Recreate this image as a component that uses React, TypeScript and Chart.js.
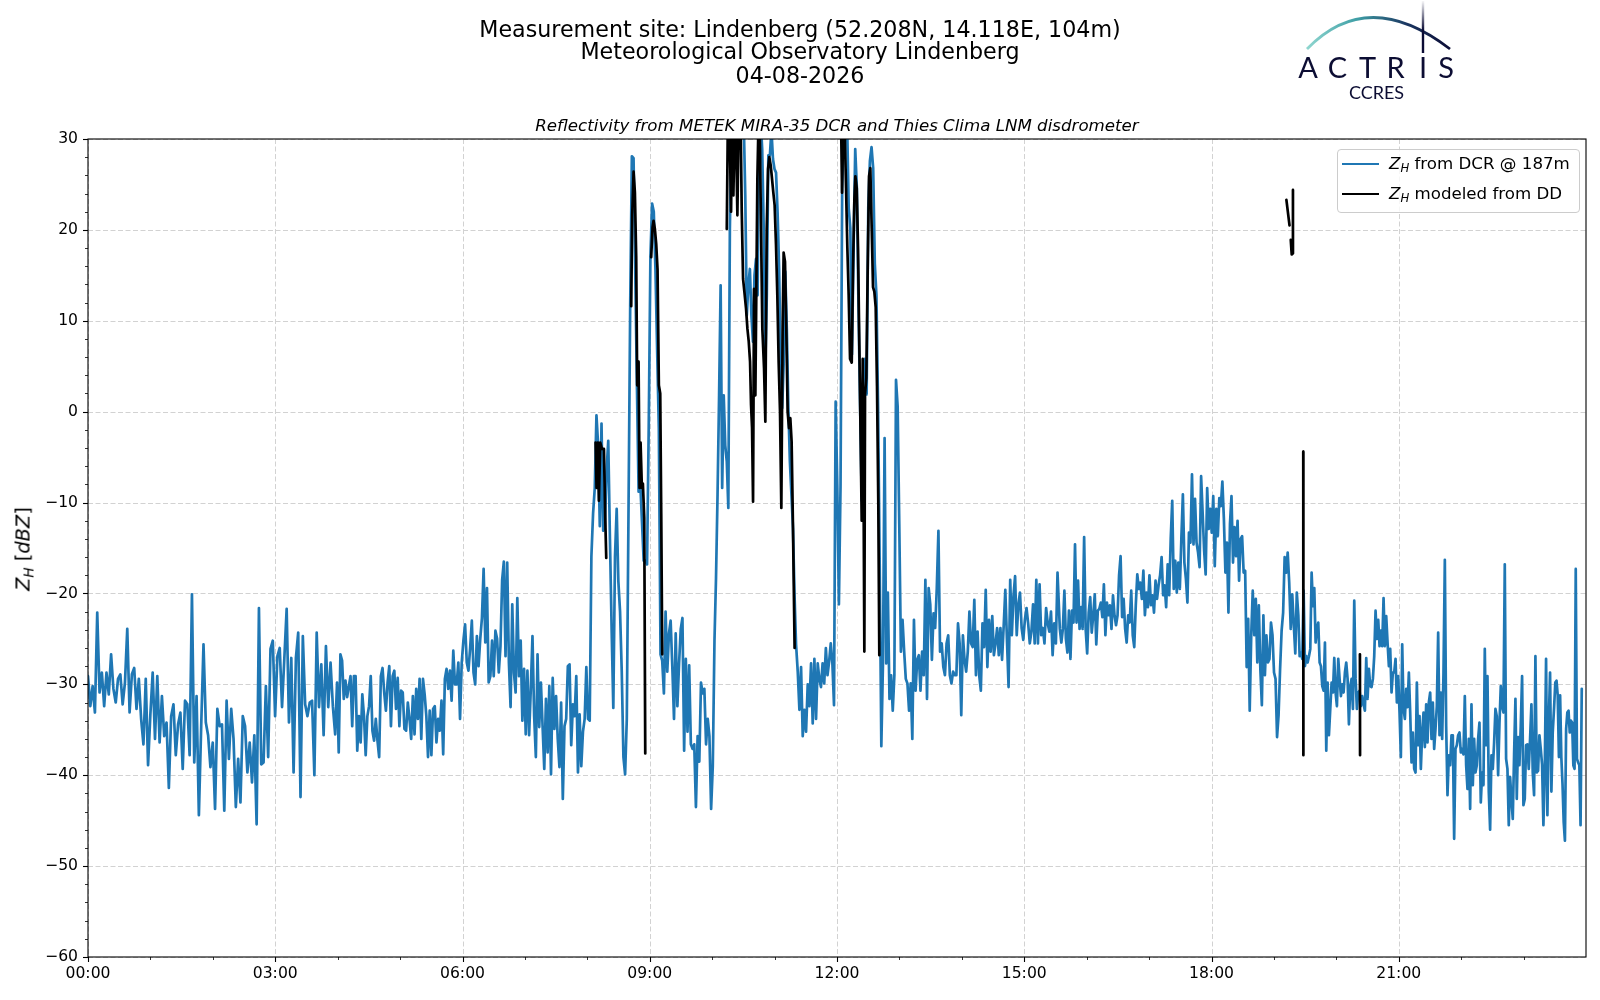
import React, { useEffect, useRef } from 'react';
import { Chart, registerables } from 'chart.js';

Chart.register(...registerables);

// ---------------- DATA ----------------
// DCR reflectivity (dBZ) at 187 m in time blocks.
// Each block is sampled evenly between the start/end hours given in dcrSpans.
const dcrA = [-29.1, -32.4, -30.2, -33.1, -22.1, -30.9, -28.7, -32.4, -28.7, -31.1,
  -26.7, -30.5, -32.0, -29.4, -28.9, -32.2, -29.8, -23.9, -33.1, -28.9,
  -28.2, -32.7, -29.4, -33.8, -36.6, -29.4, -38.9, -33.3, -28.7, -36.0,
  -29.1, -36.4, -31.3, -35.7, -34.2, -41.4, -33.5, -32.2, -37.8, -34.4,
  -33.1, -39.3, -31.8, -32.2, -37.8, -20.1, -38.6, -31.3, -44.4, -34.6,
  -25.6, -34.2, -35.6, -39.1, -36.4, -43.7, -32.7, -34.6, -34.4, -43.9,
  -31.8, -38.2, -32.7, -36.0, -43.5, -38.2, -43.0, -33.5, -34.6, -39.7,
  -36.4, -40.8, -35.6, -45.4, -21.6, -38.8, -38.6, -30.2, -38.0, -26.1,
  -25.2, -33.5, -26.9, -26.0, -32.5, -27.1, -21.7, -34.2, -27.1, -39.7,
  -27.1, -24.3, -42.4, -24.7, -32.2, -33.5, -32.0, -31.8, -40.0, -24.3,
  -32.5, -27.8, -35.6, -25.8, -32.5, -27.6, -32.4, -35.5];

const dcrB = [-29.8, -37.5, -26.7, -27.4, -31.6, -29.6, -31.4, -30.2, -29.1, -34.6,
  -29.1, -29.1, -37.3, -33.5, -36.4, -31.1, -33.5, -37.8, -33.5, -32.4,
  -29.1, -35.1, -36.2, -33.8, -36.2, -38.0, -29.1, -28.2, -30.9, -32.9,
  -29.8, -28.0, -34.6, -29.1, -28.5, -32.7, -29.3, -34.6, -30.7, -30.9,
  -34.9, -35.1, -32.0, -33.8, -36.0, -31.3, -35.5, -30.5, -33.8, -29.4,
  -36.0, -29.4, -31.1, -33.5, -38.0, -32.9, -37.8, -32.7, -32.4, -36.4,
  -33.8, -35.1, -31.8, -37.7, -29.4, -28.3, -30.5, -28.5, -31.8, -26.3,
  -30.0, -30.0, -27.6, -33.8, -27.6, -25.2, -23.4, -27.6, -28.5, -26.0,
  -23.0, -28.7, -30.0, -24.7, -28.0, -25.0, -22.7, -17.3, -25.4, -19.4,
  -29.8, -29.1, -25.2, -29.1, -24.1, -25.0, -28.7, -25.8, -18.5, -16.5,
  -26.9, -16.6, -27.6, -32.5, -21.2, -28.7, -30.9, -20.5, -29.1, -25.2,
  -34.0, -28.3, -35.5, -28.5, -35.6, -30.5, -24.7, -33.5, -38.0, -26.7,
  -34.7, -29.8, -34.6, -39.3, -31.6, -37.5, -30.2, -39.9, -29.3, -34.9,
  -31.3, -36.0, -39.1, -32.0, -42.6, -34.6, -33.8, -28.0, -27.8, -36.7,
  -32.2, -33.5, -29.1, -39.7];

const dcrC1 = [-33.3, -39.0, -35.2, -33.8, -28.1, -33.8, -34.0, -15.9, -11.2, -8.4,
  -0.4, -3.7, -12.6, -1.3, -13.1, -12.6, -6.5, -3.2, -14.0, -23.9,
  -32.6, -15.9, -10.7, -18.7, -22.0, -28.6, -38.0, -39.9, -33.8, -11.2,
  11.4, 28.1, 27.9, 15.6, 2.9, -8.8, -7.9, -12.1, -16.4, -16.4,
  -16.8, -1.8, 17.0, 22.9, 22.0, 15.6, 6.7, -1.8, -26.7, -27.4,
  -31.0, -22.0, -28.6, -24.4, -23.0, -28.1, -33.8, -24.4, -32.4, -27.7,
  -23.9, -22.7, -37.3, -27.2, -35.2, -27.9, -36.6, -37.1, -36.6, -43.5,
  -35.7, -38.5, -29.8, -31.0, -30.5, -36.6, -33.8, -35.7, -43.7, -39.0];

const dcrC2 = [-25.2, -18.3, -9.1, 1.8, 13.9, -8.4, 1.8, -3.7, -5.5, -10.6,
  20.1, 31, 32, 33, 32, 33, 31, 32, 33, 32,
  23.8, 10.6, 13.9, 15.7, 10.6, 7.7, 15.0, 16.8, 12.8, 31,
  32, 28.9, 20.1, 4.8, 12.8, 28.2, 28.2, 31, 27.8, 26.7,
  26.3, 21.9, 15.7, 5.5, 0.4, 5.5, 15.4, 9.1, 0.4, -5.5,
  -9.1, -12.8, -20.1, -25.6];

const dcrC3 = [-28.6, -32.8, -28.1, -35.7, -32.8, -35.2, -30.0, -32.4, -27.7, -34.3,
  -27.2, -33.8, -27.7];

const dcrD = [-29.4, -30.3, -27.7, -29.9, -26.0, -29.0, -27.5, -25.5, -27.7, -32.3,
  1.1, -8.1, -21.2, -8.1, 24.6, 31, 32, 32, 22.4,
  20.2, 6.3, 18.0, 28.9, 24.6, 11.5, 0.6, -9.8, 5.0, 5.8, 1.9, 22.4, 27.6, 29.1, 26.8,
  16.3, 12.8, 0.6, -16.8, -36.8, -27.7, -2.9, -27.7, -19.9, -31.6,
  -29.0, -32.9, -29.0, 3.5, 0.6, -12.4, -26.4, -22.9, -26.4, -29.4,
  -29.9, -32.9, -29.9, -36.0, -22.9, -30.7, -27.3, -26.8, -30.7, -26.4,
  -29.0, -18.5, -31.6, -19.4, -21.2, -27.3, -22.2, -23.8, -19.4, -13.1,
  -26.4, -25.5, -28.1, -29.0, -25.5, -24.6, -29.0, -29.9, -28.6, -29.0,
  -29.0, -23.3, -25.5, -33.4, -24.6, -27.3, -28.6, -26.4, -22.0, -25.5,
  -25.9, -20.7, -29.0, -24.2, -29.0, -30.7, -23.3, -25.9, -19.6, -28.1,
  -22.9, -26.4, -22.5, -26.8, -25.5, -23.8, -26.8, -23.8, -27.3, -23.6,
  -19.6, -25.1, -30.3, -18.5, -24.6, -20.3, -18.1, -24.6, -21.2, -19.9,
  -23.8, -25.1, -22.9, -21.6, -23.3, -25.5, -24.2, -21.2, -25.5, -18.5,
  -25.5, -19.0, -24.6, -23.8, -25.5, -21.6, -23.3, -24.2, -22.0, -26.8,
  -23.3, -25.5, -17.7];

const dcrE = [-23.9, -25.4, -23.9, -19.7, -25.0, -26.5, -21.9, -27.2, -21.9, -23.2,
  -14.6, -23.2, -18.6, -23.9, -21.5, -23.9, -13.8, -23.9, -26.6, -22.1,
  -20.4, -24.3, -22.4, -20.1, -25.6, -21.9, -21.7, -21.0, -22.6, -19.0,
  -24.6, -21.0, -22.4, -21.3, -23.9, -20.2, -22.4, -23.5, -22.4, -18.0,
  -15.9, -22.6, -20.6, -23.9, -25.4, -22.4, -23.2, -19.7, -24.6, -25.9,
  -21.3, -17.9, -19.5, -18.8, -20.6, -17.5, -22.4, -19.9, -21.5, -18.0,
  -21.3, -20.2, -22.1, -18.6, -20.6, -19.1, -18.0, -16.0, -20.2, -19.1,
  -21.5, -16.8, -20.2, -14.0, -9.8, -19.5, -16.4, -19.9, -16.6, -19.5,
  -14.0, -9.1, -16.6, -18.4, -21.0, -13.3, -14.4, -6.9, -14.6, -9.6,
  -14.4, -15.5, -17.1, -7.1, -11.1, -15.3, -17.9, -8.4, -12.9, -10.7,
  -13.3, -9.3, -17.0, -10.7, -13.7, -9.5, -10.4, -7.7, -11.8, -17.7,
  -14.4, -22.1, -12.4, -9.3, -16.6, -12.7, -15.9, -12.0, -18.6, -14.0,
  -13.7, -17.7, -17.5, -28.1, -22.8, -32.9, -24.6, -19.7, -24.6, -20.6,
  -27.6, -21.3, -28.3, -32.3, -22.4, -29.0, -24.6, -27.6, -27.2, -23.2,
  -24.6, -28.7, -29.4, -35.8, -33.4, -28.3, -24.1, -22.1, -16.0, -17.7,
  -15.5, -18.8, -23.9, -20.1, -23.4, -26.6, -19.9, -22.4];

const dcrF = [-26.9, -26.5, -27.2, -19.7, -28.0, -26.9, -27.6, -26.9, -26.1,
  -17.7, -21.4, -19.4, -25.4, -23.9, -23.2, -27.6, -28.0, -30.2, -30.7,
  -25.4, -37.3, -29.8, -35.6, -32.7, -29.8, -30.9, -27.1, -30.9, -32.4,
  -27.2, -29.4, -31.3, -30.0, -30.9, -28.7, -27.6, -29.4, -34.4, -30.2,
  -29.4, -32.7, -20.8, -29.4, -32.7, -30.9, -30.7, -32.4, -31.3, -32.2,
  -32.9, -27.1, -31.6, -28.3, -30.2, -30.3, -29.4, -26.9, -21.9, -25.0,
  -22.9, -25.8, -24.1, -25.8, -20.5, -25.8, -22.5, -25.4, -28.0, -26.1,
  -30.9, -28.7, -28.7, -27.2, -32.0, -29.1, -33.1, -38.0, -25.6, -32.7,
  -33.8, -30.5, -32.5, -28.7, -33.1, -38.6, -35.3, -39.3, -39.7, -29.8,
  -36.7, -33.5, -39.3, -35.3, -33.1, -36.9, -32.2, -36.4, -32.0, -30.9,
  -36.0, -32.0, -37.1, -34.9, -32.4, -24.3, -35.6, -30.9, -36.0, -28.7,
  -16.3, -34.6, -42.2, -37.8, -38.9, -35.6, -35.6, -47.0, -37.1, -36.7,
  -35.6, -35.3, -37.5, -37.1, -37.7, -31.3, -38.9, -41.5, -36.0, -43.7,
  -32.2, -41.1, -36.0, -39.7, -38.9, -36.0, -34.2, -43.0, -39.7, -41.1,
  -26.1, -36.7, -29.1, -41.8, -46.0, -37.8, -39.3, -36.4, -32.7, -33.5,
  -40.0, -34.4, -30.2, -32.4, -33.1, -16.8, -38.2, -39.3, -45.5, -40.2,
  -42.6, -44.8, -37.7, -31.6, -42.6, -35.8, -38.9, -34.6, -29.1, -43.3,
  -42.6, -36.7, -36.6, -39.3, -36.0, -32.2, -39.7, -42.2, -26.9, -39.7,
  -39.5, -35.6, -37.1, -38.8, -45.5, -39.7, -27.2, -44.4, -34.4, -28.7,
  -41.8, -35.3];

const dcrG = [-32.5, -29.8, -29.6, -31.2, -38.0, -31.2, -38.0, -41.0, -45.2, -47.2,
  -34.9, -33.1, -32.9, -35.3, -34.0, -34.2, -38.9, -39.3, -17.3, -38.2,
  -38.6, -38.9, -45.5, -30.5];

// start / end hour of each DCR block
const dcrBlocks = [dcrA, dcrB, dcrC1, dcrC2, dcrC3, dcrD, dcrE, dcrF, dcrG];
const dcrSpans = [
  [0.0, 3.96], [3.99, 7.85], [7.876, 10.01], [10.037, 11.344], [11.371, 11.691],
  [11.717, 15.533], [15.57, 19.391], [19.412, 23.467], [23.489, 23.932],
];

// Reflectivity modeled from the disdrometer (hours, dBZ); null = gap
const ddTimes = [
  8.132, 8.148, 8.169, 8.185, 8.207, 8.234, 8.266, 8.287, 8.303, 8.32,
  8.703, 8.719, 8.741, 8.762, 8.783, 8.799, 8.821, 8.837, 8.853, 8.874, 8.890, 8.912, 8.928, 8.95,
  9.023, 9.045, 9.061, 9.082, 9.104, 9.125, 9.146, 9.168, 9.184, 9.200, 9.22,
  10.234, 10.25, 10.277, 10.303, 10.319, 10.340, 10.362, 10.383, 10.404, 10.426,
  10.452, 10.474, 10.495, 10.516, 10.543, 10.565, 10.586, 10.607, 10.623, 10.639,
  10.655, 10.671, 10.692, 10.708, 10.724, 10.740, 10.762, 10.783, 10.804, 10.831,
  10.852, 10.874, 10.895, 10.916, 10.938, 10.959, 10.980, 11.001, 11.023, 11.044,
  11.065, 11.087, 11.108, 11.129, 11.145, 11.167, 11.188, 11.209, 11.231, 11.252,
  11.273, 11.295, 11.321, 11.34,
  12.065, 12.081, 12.102, 12.124, 12.145, 12.166, 12.187, 12.209, 12.236, 12.257,
  12.278, 12.294, 12.316, 12.337, 12.358, 12.380, 12.396, 12.412, 12.428, 12.438,
  12.449, 12.470, 12.492, 12.513, 12.534, 12.556, 12.577, 12.598, 12.620, 12.641,
  12.662, 12.678, 12.7,
  19.20, 19.25, 19.26, 19.27, 19.285, 19.30, 19.305, 19.35,
  19.47, 19.472, 19.5,
  20.378, 20.38,
];
const ddValues = [
  -3.4, -8.4, -3.4, -9.8, -3.4, -4.1, -4.1, -11.7, -16.1, null,
  11.6, 21.7, 26.4, 24.1, 17.0, 2.9, 5.5, -8.4, -3.4, -8.4, -7.9, -11.7, -37.6, null,
  17.0, 20.3, 21.0, 20.1, 18.4, 15.6, 2.9, 2.0, -11.2, -26.7, null,
  20.1, 31, 32, 22, 33, 23.8, 32, 30, 21.6, 33,
  34, 22, 14.6, 13.2, 11.3, 9.1, 7.7, 5.5, 0.7, -1.8,
  -9.9, 13.5, 1.8, 13.5, 25.6, 31, 31, 20.1, 9.1, 4.8,
  -1.1, 20.1, 26.7, 28, 27.1, 25.6, 24.1, 22.7, 18.3, 12.8,
  5.5, 0, -10.6, 9.1, 17.5, 16.5, 9.1, 0, -1.8, -0.7,
  -3.3, -12.8, -26, null,
  32, 24.1, 32, 31, 24.6, 18, 12.8, 5.8, 5.4, 15.9,
  23.3, 25.9, 24.6, 18, 7.2, -3.7, -12, 5.8, -12, -26.4,
  1.9, 3.7, 15.9, 25.9, 26.8, 20.2, 13.7, 13.2, 11.5, 2.8,
  -10.3, -26.8, null,
  23.3, 20.5, null, 18.9, 17.3, 17.4, 24.4, null,
  -4.4, -37.8, null,
  -26.7, -37.8,
];

const xMajorTicks = [0, 3, 6, 9, 12, 15, 18, 21];
const xMinorTicks = [1, 2, 4, 5, 7, 8, 10, 11, 13, 14, 16, 17, 19, 20, 22, 23];
const yMajorTicks = [-60, -50, -40, -30, -20, -10, 0, 10, 20, 30];

const titleLines = [
  'Measurement site: Lindenberg (52.208N, 14.118E, 104m)',
  'Meteorological Observatory Lindenberg',
  '04-08-2026',
];
const subTitle = 'Reflectivity from METEK MIRA-35 DCR and Thies Clima LNM disdrometer';

const BLUE = '#1f77b4';
const FONT = "'DejaVu Sans', sans-serif";
const LINE_W = 2.7;
const TICK_FONT = 15.6;

// -------------- helpers --------------
function buildDcrPoints() {
  const pts: { x: number; y: number }[] = [];
  dcrBlocks.forEach((vals, b) => {
    const [s, e] = dcrSpans[b];
    const n = vals.length;
    vals.forEach((v, i) => {
      pts.push({ x: s + (n > 1 ? (i * (e - s)) / (n - 1) : 0), y: v });
    });
  });
  return pts;
}

function buildDdPoints() {
  return ddTimes.map((t, i) => ({ x: t, y: ddValues[i] as number | null }));
}

const axesPlugin = {
  id: 'mplAxes',
  beforeDatasetsDraw(chart: any) {
    const { ctx, chartArea: a, scales } = chart;
    const x = scales.x;
    const y = scales.y;
    ctx.save();
    ctx.strokeStyle = '#d2d2d2';
    ctx.lineWidth = 1;
    ctx.setLineDash([5, 2.5]);
    xMajorTicks.forEach((v) => {
      const px = Math.round(x.getPixelForValue(v)) + 0.5;
      ctx.beginPath();
      ctx.moveTo(px, a.top);
      ctx.lineTo(px, a.bottom);
      ctx.stroke();
    });
    yMajorTicks.forEach((v) => {
      const py = Math.round(y.getPixelForValue(v)) + 0.5;
      ctx.beginPath();
      ctx.moveTo(a.left, py);
      ctx.lineTo(a.right, py);
      ctx.stroke();
    });
    ctx.restore();
  },
  afterDatasetsDraw(chart: any) {
    const { ctx, chartArea: a, scales } = chart;
    const x = scales.x;
    const y = scales.y;
    ctx.save();
    ctx.setLineDash([]);
    ctx.strokeStyle = '#000';
    ctx.lineWidth = 1.1;
    xMajorTicks.forEach((v) => {
      const px = Math.round(x.getPixelForValue(v)) + 0.5;
      ctx.beginPath();
      ctx.moveTo(px, a.bottom);
      ctx.lineTo(px, a.bottom + 5);
      ctx.stroke();
    });
    yMajorTicks.forEach((v) => {
      const py = Math.round(y.getPixelForValue(v)) + 0.5;
      ctx.beginPath();
      ctx.moveTo(a.left, py);
      ctx.lineTo(a.left - 5, py);
      ctx.stroke();
    });
    ctx.lineWidth = 0.8;
    xMinorTicks.forEach((v) => {
      const px = Math.round(x.getPixelForValue(v)) + 0.5;
      ctx.beginPath();
      ctx.moveTo(px, a.bottom);
      ctx.lineTo(px, a.bottom + 3);
      ctx.stroke();
    });
    for (let v = -58; v < 30; v += 2) {
      if (v % 10 === 0) continue;
      const py = Math.round(y.getPixelForValue(v)) + 0.5;
      ctx.beginPath();
      ctx.moveTo(a.left, py);
      ctx.lineTo(a.left - 3, py);
      ctx.stroke();
    }
    ctx.lineWidth = 1.1;
    ctx.strokeRect(a.left, a.top, a.right - a.left, a.bottom - a.top);
    ctx.restore();
  },
};

function ZH() {
  return (
    <span>
      <span style={{ fontStyle: 'italic' }}>Z</span>
      <span style={{ fontStyle: 'italic', fontSize: '0.7em', position: 'relative', top: '0.28em' }}>H</span>
    </span>
  );
}

export default function App() {
  const canvasRef = useRef<HTMLCanvasElement>(null);

  useEffect(() => {
    document.body.style.margin = '0';
    const canvas = canvasRef.current;
    if (!canvas) return;
    const chart = new Chart(canvas, {
      type: 'line',
      data: {
        datasets: [
          {
            label: 'ZH modeled from DD',
            data: buildDdPoints() as any,
            borderColor: '#000000',
            borderWidth: LINE_W,
            pointRadius: 0,
            spanGaps: false,
            tension: 0,
            borderJoinStyle: 'round',
            borderCapStyle: 'round',
            clip: 0,
            order: 1,
          },
          {
            label: 'ZH from DCR @ 187m',
            data: buildDcrPoints() as any,
            borderColor: BLUE,
            borderWidth: LINE_W,
            pointRadius: 0,
            tension: 0,
            borderJoinStyle: 'round',
            borderCapStyle: 'round',
            clip: 0,
            order: 2,
          },
        ],
      },
      options: {
        animation: false,
        responsive: false,
        events: [],
        layout: { padding: { top: 139, right: 14, left: 0, bottom: 0 } },
        plugins: {
          legend: { display: false },
          tooltip: { enabled: false },
          title: { display: false },
        },
        scales: {
          x: {
            type: 'linear',
            min: 0,
            max: 24,
            grid: { display: false, drawTicks: false },
            border: { display: false },
            afterBuildTicks: (scale: any) => {
              scale.ticks = xMajorTicks.map((v) => ({ value: v }));
            },
            afterFit: (scale: any) => {
              scale.height = 43;
            },
            ticks: {
              autoSkip: false,
              maxRotation: 0,
              padding: 8,
              color: '#000',
              font: { family: FONT, size: TICK_FONT },
              callback: (v: any) => String(v).padStart(2, '0') + ':00',
            },
          },
          y: {
            type: 'linear',
            min: -60,
            max: 30,
            grid: { display: false, drawTicks: false },
            border: { display: false },
            afterBuildTicks: (scale: any) => {
              scale.ticks = yMajorTicks.map((v) => ({ value: v }));
            },
            afterFit: (scale: any) => {
              scale.width = 88;
            },
            ticks: {
              padding: 10,
              color: '#000',
              font: { family: FONT, size: TICK_FONT },
              callback: (v: any) => (v < 0 ? '\u2212' + Math.abs(v) : String(v)),
            },
          },
        },
      },
      plugins: [axesPlugin],
    } as any);
    return () => chart.destroy();
  }, []);

  const titleY = [28.6, 51.1, 74.6];

  return (
    <div
      style={{
        position: 'relative',
        width: 1600,
        height: 1000,
        background: '#ffffff',
        fontFamily: FONT,
        color: '#000',
        overflow: 'hidden',
      }}
    >
      <canvas
        ref={canvasRef}
        width={1600}
        height={1000}
        style={{ position: 'absolute', left: 0, top: 0, width: 1600, height: 1000 }}
      />

      {titleLines.map((t, i) => (
        <div
          key={i}
          style={{
            position: 'absolute',
            left: 800,
            top: titleY[i],
            transform: 'translate(-50%, -50%)',
            fontSize: 22.2,
            lineHeight: '26px',
            whiteSpace: 'nowrap',
          }}
        >
          {t}
        </div>
      ))}

      <div
        style={{
          position: 'absolute',
          left: 837,
          top: 126,
          transform: 'translate(-50%, -50%)',
          fontSize: 16.67,
          fontStyle: 'italic',
          lineHeight: '20px',
          whiteSpace: 'nowrap',
        }}
      >
        {subTitle}
      </div>

      {/* y-axis label */}
      <div
        style={{
          position: 'absolute',
          left: 24,
          top: 549,
          transform: 'translate(-50%, -50%) rotate(-90deg)',
          fontSize: 19.4,
          lineHeight: '22px',
          whiteSpace: 'nowrap',
        }}
      >
        <ZH /> [<span style={{ fontStyle: 'italic' }}>dBZ</span>]
      </div>

      {/* legend */}
      <div
        style={{
          position: 'absolute',
          left: 1337,
          top: 149,
          width: 243,
          height: 64,
          border: '1px solid #cccccc',
          borderRadius: 4,
          background: 'rgba(255,255,255,0.8)',
          boxSizing: 'border-box',
        }}
      />
      <div style={{ position: 'absolute', left: 1342, top: 162.7, width: 37, height: LINE_W, background: BLUE }} />
      <div style={{ position: 'absolute', left: 1342, top: 192.7, width: 37, height: LINE_W, background: '#000' }} />
      <div
        style={{
          position: 'absolute',
          left: 1389,
          top: 164,
          transform: 'translateY(-50%)',
          fontSize: 16.67,
          lineHeight: '20px',
          whiteSpace: 'nowrap',
        }}
      >
        <ZH /> from DCR @ 187m
      </div>
      <div
        style={{
          position: 'absolute',
          left: 1389,
          top: 194,
          transform: 'translateY(-50%)',
          fontSize: 16.67,
          lineHeight: '20px',
          whiteSpace: 'nowrap',
        }}
      >
        <ZH /> modeled from DD
      </div>

      {/* ACTRIS CCRES logo */}
      <svg
        width={1600}
        height={110}
        style={{ position: 'absolute', left: 0, top: 0 }}
        viewBox="0 0 1600 110"
      >
        <defs>
          <linearGradient id="arcGrad" gradientUnits="userSpaceOnUse" x1="1307" y1="0" x2="1450" y2="0">
            <stop offset="0" stopColor="#8fd6cf" />
            <stop offset="0.35" stopColor="#3f9fa6" />
            <stop offset="0.7" stopColor="#1a3560" />
            <stop offset="1" stopColor="#0b0c35" />
          </linearGradient>
          <linearGradient id="vGrad" gradientUnits="userSpaceOnUse" x1="0" y1="0" x2="0" y2="30">
            <stop offset="0" stopColor="#0b0c35" stopOpacity="0" />
            <stop offset="1" stopColor="#0b0c35" stopOpacity="1" />
          </linearGradient>
        </defs>
        <path d="M1307,49 Q1368,-14 1450,49" fill="none" stroke="url(#arcGrad)" strokeWidth={2.8} />
        <line x1={1423} y1={1} x2={1423} y2={53} stroke="url(#vGrad)" strokeWidth={2.4} />
        {[
          ['A', 1308],
          ['C', 1337.5],
          ['T', 1367.5],
          ['R', 1395.5],
          ['I', 1423],
          ['S', 1446],
        ].map(([ch, cx]) => (
          <text
            key={String(ch)}
            x={cx as number}
            y={78.3}
            textAnchor="middle"
            fontFamily="Lato, 'Open Sans', sans-serif"
            fontSize={29}
            fill="#0c0d33"
          >
            {ch}
          </text>
        ))}
        <text
          x={1376.5}
          y={99}
          textAnchor="middle"
          fontFamily="Lato, 'Open Sans', sans-serif"
          fontSize={18}
          fill="#0c0d33"
        >
          CCRES
        </text>
      </svg>
    </div>
  );
}
